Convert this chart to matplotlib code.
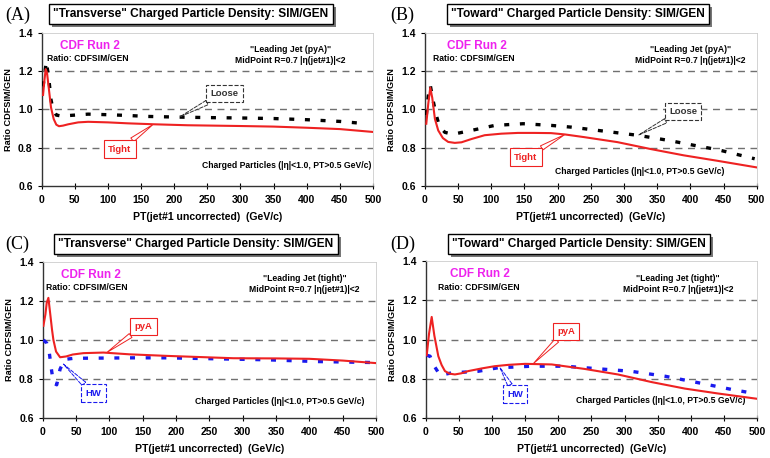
import numpy as np
import matplotlib.pyplot as plt
from matplotlib.patches import Rectangle

plt.rcParams['font.family'] = ['Liberation Sans', 'DejaVu Sans']
plt.rcParams['font.weight'] = 'bold'

# --- DONNEES ---
# (A) Transverse, pyA : Tight vs Loose
a_tight_x = [2, 4, 6, 8, 11, 14, 18, 22, 26, 32, 40, 55, 70, 100, 130, 170, 220, 300, 350, 400, 450, 500]
a_tight_y = [1.075, 1.15, 1.21, 1.19, 1.10, 1.01, 0.95, 0.92, 0.912, 0.915, 0.922, 0.932, 0.935, 0.932, 0.927, 0.922, 0.917, 0.913, 0.91, 0.904, 0.897, 0.882]
a_loose_x = [2, 5, 7, 9, 11, 14, 17, 22, 30, 50, 70, 100, 130, 160, 200, 250, 300, 350, 400, 450, 490]
a_loose_y = [1.12, 1.20, 1.25, 1.20, 1.15, 1.05, 1.00, 0.97, 0.965, 0.97, 0.975, 0.972, 0.968, 0.963, 0.96, 0.957, 0.955, 0.952, 0.946, 0.937, 0.925]

# (B) Toward, pyA : Tight vs Loose
b_tight_x = [2, 5, 8, 11, 15, 20, 27, 35, 45, 55, 70, 90, 115, 140, 165, 190, 211, 240, 290, 340, 390, 440, 500]
b_tight_y = [0.925, 1.03, 1.113, 1.06, 0.95, 0.89, 0.85, 0.83, 0.825, 0.828, 0.845, 0.865, 0.873, 0.877, 0.877, 0.876, 0.869, 0.855, 0.829, 0.793, 0.76, 0.732, 0.697]
b_loose_x = [2, 5, 8, 12, 17, 22, 30, 42, 70, 105, 148, 191, 221, 261, 322, 367, 412, 442, 497]
b_loose_y = [0.97, 1.07, 1.126, 1.05, 0.97, 0.91, 0.88, 0.87, 0.89, 0.916, 0.925, 0.916, 0.907, 0.89, 0.864, 0.838, 0.808, 0.789, 0.742]

# (C) Transverse, tight : pyA vs HW
c_pya_x = [1, 4, 6, 8.5, 11, 14, 16, 20, 26, 35, 45, 61, 91, 130, 186, 236, 286, 350, 400, 450, 500]
c_pya_y = [1.072, 1.13, 1.19, 1.215, 1.14, 1.05, 1.0, 0.94, 0.911, 0.915, 0.925, 0.932, 0.935, 0.926, 0.918, 0.912, 0.906, 0.905, 0.903, 0.894, 0.881]
c_hw_x = [1, 6, 10, 13, 16, 21, 26, 33, 45, 61, 136, 186, 261, 336, 411, 496]
c_hw_y = [1.0, 0.983, 0.93, 0.85, 0.78, 0.77, 0.85, 0.90, 0.905, 0.906, 0.908, 0.908, 0.903, 0.898, 0.889, 0.884]

# (D) Toward, tight : pyA vs HW
d_pya_x = [1.5, 5, 9, 13, 19, 24, 29, 36, 44, 54, 64, 85, 104, 125, 150, 190, 240, 290, 341, 391, 441, 500]
d_pya_y = [0.92, 1.03, 1.115, 1.02, 0.915, 0.87, 0.839, 0.826, 0.822, 0.828, 0.839, 0.853, 0.864, 0.871, 0.876, 0.873, 0.85, 0.822, 0.783, 0.75, 0.725, 0.698]
d_hw_x = [1.5, 6.5, 13, 21.6, 39, 79, 109, 160, 210, 260, 310, 361, 411, 461, 496]
d_hw_y = [0.92, 0.915, 0.864, 0.818, 0.83, 0.838, 0.856, 0.864, 0.864, 0.851, 0.838, 0.813, 0.78, 0.746, 0.725]

titles = ['"Transverse" Charged Particle Density: SIM/GEN',
          '"Toward" Charged Particle Density: SIM/GEN',
          '"Transverse" Charged Particle Density: SIM/GEN',
          '"Toward" Charged Particle Density: SIM/GEN']
panel_labels = ['(A)', '(B)', '(C)', '(D)']
jet_labels = ['"Leading Jet (pyA)"', '"Leading Jet (pyA)"', '"Leading Jet (tight)"', '"Leading Jet (tight)"']

RED = '#ee2222'
BLUE = '#1a1aee'
MAGENTA = '#ee22ee'

fig = plt.figure(figsize=(7.7, 4.58), dpi=100)

# positions des axes (fraction de figure)
rects = [[0.0542, 0.5939, 0.4302, 0.3347],
         [0.5519, 0.5939, 0.4308, 0.3347],
         [0.0555, 0.0873, 0.4329, 0.3413],
         [0.5529, 0.0873, 0.4303, 0.3428]]
# titres: centre x, y en pixels depuis le haut
title_pos = [(191, 14), (578, 14), (196, 244), (579, 244)]
label_pos = [(5, 15), (390, 15), (5, 244), (390, 244)]
cdf_x = [27, 33, 27, 37]
ratio_x = [8, 12, 5, 19]
jet_x = [375, 400, 393, 381]
charged_pos = [(498, 0.706), (451, 0.678), (482, 0.683), (482, 0.687)]

title_texts = []


def setup(ax, i):
    ax.set_xlim(0, 500)
    ax.set_ylim(0.6, 1.4)
    ax.set_xticks(np.arange(0, 501, 50))
    ax.set_yticks([0.6, 0.8, 1.0, 1.2, 1.4])
    ax.set_yticklabels(['0.6', '0.8', '1.0', '1.2', '1.4'])
    for yv in [0.8, 1.0, 1.2]:
        ax.axhline(yv, color='#707070', lw=1.0, ls=(0, (5, 4)), zorder=1)
    for s in ['top', 'right']:
        ax.spines[s].set_color('#cccccc')
        ax.spines[s].set_linewidth(0.6)
    for s in ['left', 'bottom']:
        ax.spines[s].set_color('#333333')
        ax.spines[s].set_linewidth(1.0)
    ax.tick_params(axis='x', direction='inout', length=5, width=0.8, labelsize=7.5, pad=4)
    ax.tick_params(axis='y', direction='out', length=3, width=0.8, labelsize=7.5)
    ax.set_xlabel('PT(jet#1 uncorrected)  (GeV/c)', fontsize=7.6, fontweight='bold', labelpad=5)
    ax.set_ylabel('Ratio CDFSIM/GEN', fontsize=6.6, fontweight='bold', labelpad=4)
    ax.text(cdf_x[i], 1.332, 'CDF Run 2', color=MAGENTA, fontsize=8.5, fontweight='bold', va='center')
    ax.text(ratio_x[i], 1.266, 'Ratio: CDFSIM/GEN', fontsize=6.2, fontweight='bold', va='center')
    ax.text(jet_x[i], 1.313, jet_labels[i], fontsize=6.2, fontweight='bold', ha='center', va='center')
    ax.text(jet_x[i], 1.256, 'MidPoint R=0.7 |η(jet#1)|<2', fontsize=6.2, fontweight='bold', ha='center', va='center')
    cx, cy = charged_pos[i]
    ax.text(cx, cy, 'Charged Particles (|η|<1.0, PT>0.5 GeV/c)', fontsize=6.2, fontweight='bold',
            ha='right', va='center')

    # titre encadré (ombre ajoutée plus bas)
    tx, ty = title_pos[i]
    t = fig.text(tx / 770, 1 - ty / 458, titles[i], fontsize=8.6, fontweight='bold', ha='center',
                 va='center', zorder=5,
                 bbox=dict(boxstyle='square,pad=0.35', fc='white', ec='black', lw=1))
    title_texts.append(t)
    lx, ly = label_pos[i]
    fig.text(lx / 770, 1 - ly / 458, panel_labels[i], fontsize=13, fontweight='normal',
             family='Liberation Serif', va='center', ha='left')


def tag(ax, text, xy, xytext, color, dashed=False):
    ls = '--' if dashed else '-'
    ax.annotate(text, xy=xy, xytext=xytext, fontsize=6.8, fontweight='bold', color=color,
                ha='center', va='center',
                bbox=dict(boxstyle='square,pad=0.45', fc='white', ec=color, lw=0.8, ls=ls),
                arrowprops=dict(arrowstyle='wedge,tail_width=0.5,shrink_factor=0.5', fc='white',
                                ec=color, lw=0.7, ls=ls, shrinkA=0, shrinkB=0),
                zorder=6)


axes = [fig.add_axes(r) for r in rects]
for i, ax in enumerate(axes):
    setup(ax, i)

dash = (0, (1.5, 3.2))

ax = axes[0]
ax.plot(a_loose_x, a_loose_y, color='black', lw=2.4, ls=dash, zorder=3)
ax.plot(a_tight_x, a_tight_y, color=RED, lw=1.5, zorder=4)
tag(ax, 'Tight', (168, 0.921), (118, 0.793), RED)
tag(ax, 'Loose', (209, 0.962), (276, 1.083), '#333333', dashed=True)

ax = axes[1]
ax.plot(b_loose_x, b_loose_y, color='black', lw=2.4, ls=dash, zorder=3)
ax.plot(b_tight_x, b_tight_y, color=RED, lw=1.5, zorder=4)
tag(ax, 'Tight', (211, 0.869), (152, 0.751), RED)
tag(ax, 'Loose', (322, 0.866), (389, 0.988), '#333333', dashed=True)

ax = axes[2]
ax.plot(c_hw_x, c_hw_y, color=BLUE, lw=2.4, ls=dash, zorder=3)
ax.plot(c_pya_x, c_pya_y, color=RED, lw=1.5, zorder=4)
tag(ax, 'pyA', (96, 0.935), (151, 1.069), RED)
tag(ax, 'HW', (31, 0.876), (76, 0.728), BLUE, dashed=True)

ax = axes[3]
ax.plot(d_hw_x, d_hw_y, color=BLUE, lw=2.4, ls=dash, zorder=3)
ax.plot(d_pya_x, d_pya_y, color=RED, lw=1.5, zorder=4)
tag(ax, 'pyA', (162, 0.876), (212, 1.042), RED)
tag(ax, 'HW', (112, 0.857), (135, 0.722), BLUE, dashed=True)

# ombres des titres : rectangles gris décalés sous chaque cadre
fig.canvas.draw()
for t in title_texts:
    bb = t.get_bbox_patch().get_window_extent()
    fig.patches.append(Rectangle((bb.x0 + 3, bb.y0 - 3), bb.width, bb.height,
                                 transform=None, fc='#777777', ec='none', zorder=4))

plt.savefig('out.png', dpi=100)
